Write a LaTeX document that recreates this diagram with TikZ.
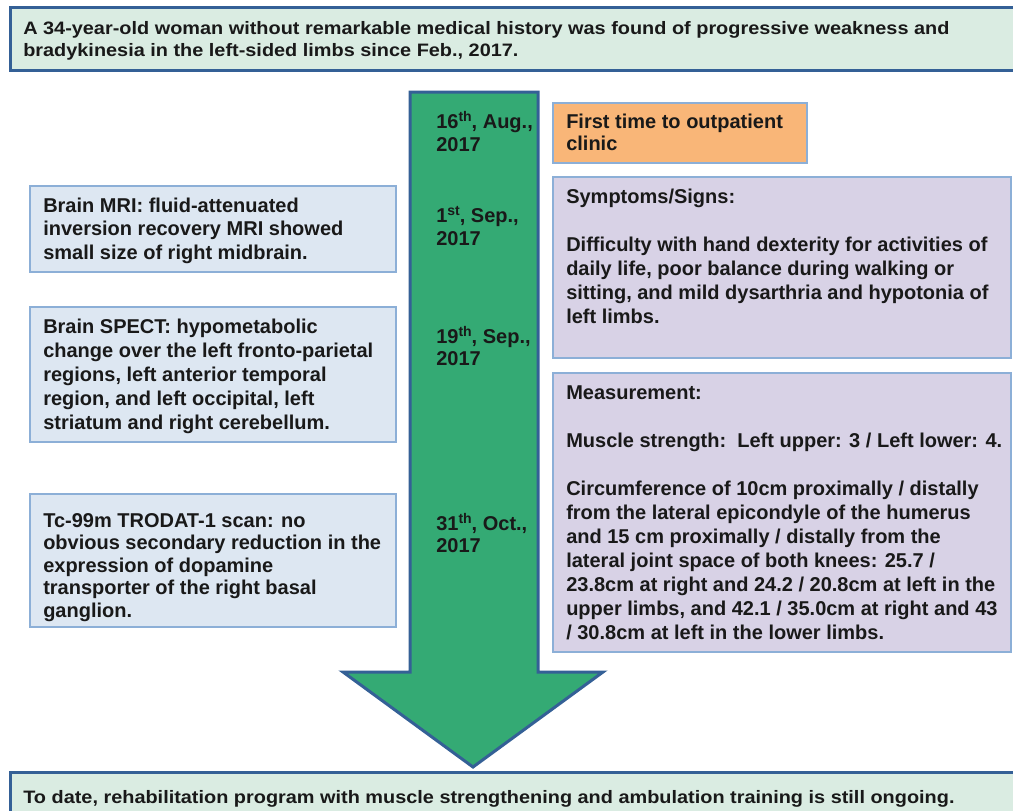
\documentclass[tikz,border=0pt]{standalone}
\usepackage{fontspec}
\setmainfont{Liberation Sans}
\newfontfamily\widefont[FakeStretch=1.105]{Liberation Sans}
\usetikzlibrary{fit}
\definecolor{ink}{RGB}{25,25,25}
\definecolor{darkedge}{RGB}{52,96,150}
\definecolor{mint}{RGB}{218,236,226}
\definecolor{arrowgreen}{RGB}{52,170,116}
\definecolor{paleblue}{RGB}{221,231,242}
\definecolor{paleedge}{RGB}{140,175,215}
\definecolor{peach}{RGB}{249,182,120}
\definecolor{lavender}{RGB}{216,210,230}
\newcommand\firststrut[1]{\rule{0pt}{#1}}
\newcommand\sups[1]{\raisebox{0.32em}{\fontsize{10.5pt}{10.5pt}\selectfont #1}}
\begin{document}
\begin{tikzpicture}[x=0.75pt,y=-0.75pt,
  framebox/.style={draw=darkedge, line width=2.25pt, fill=mint, inner sep=0pt},
  leftbox/.style={draw=paleedge, line width=1.5pt, fill=paleblue, inner sep=0pt},
  rightbox/.style={draw=paleedge, line width=1.5pt, fill=lavender, inner sep=0pt},
  peachbox/.style={draw=paleedge, line width=1.5pt, fill=peach, inner sep=0pt},
  txt/.style={anchor=north west, inner sep=0pt, align=left, text=ink,
    font=\bfseries\fontsize{15pt}{#1}\selectfont},
  txt/.default=18pt,
  widetxt/.style={anchor=north west, inner sep=0pt, align=left, text=ink,
    font=\widefont\bfseries\fontsize{13.5pt}{16.5pt}\selectfont},
  timeline/.style={draw=darkedge, line width=2.25pt, fill=arrowgreen, line join=miter}
]
\path[use as bounding box, fill=white] (0,0) rectangle (1013,810);
\clip (0,0) rectangle (1013,810);

% top and bottom frames
\node[framebox, fit={(10,7) (1030,70)}] (intro) {};
\node[widetxt] (introtext) at (23,16) {\firststrut{13.5pt}A 34-year-old woman without remarkable medical history was found of progressive weakness and\\
bradykinesia in the left-sided limbs since Feb., 2017.};

\node[framebox, fit={(10,772) (1030,830)}] (outro) {};
\node[widetxt] (outrotext) at (23,785) {\firststrut{13.5pt}To date, rehabilitation program with muscle strengthening and ambulation training is still ongoing.};

% timeline arrow
\path[timeline] (410,92) -- (538,92) -- (538,672) -- (603,672) -- (473,767) -- (343,672) -- (410,672) -- cycle;
\coordinate (arrowtip) at (473,767);

% dates
\node[txt=17.25pt] (d1) at (436,108) {\firststrut{15pt}16\sups{th}, Aug.,\\2017};
\node[txt=17.25pt] (d2) at (436,202) {\firststrut{15pt}1\sups{st}, Sep.,\\2017};
\node[txt=16.5pt] (d3) at (436,323) {\firststrut{15pt}19\sups{th}, Sep.,\\2017};
\node[txt=16.5pt] (d4) at (436,510) {\firststrut{15pt}31\sups{th}, Oct.,\\2017};

% left boxes
\node[leftbox, fit={(30,186) (396,272)}] (mri) {};
\node[txt=17.6pt] (mritext) at (43,192) {\firststrut{15pt}Brain MRI: fluid-attenuated\\
inversion recovery MRI showed\\
small size of right midbrain.};

\node[leftbox, fit={(30,307) (396,442)}] (spect) {};
\node[txt=18pt] (specttext) at (43,313) {\firststrut{15pt}Brain SPECT: hypometabolic\\
change over the left fronto-parietal\\
regions, left anterior temporal\\
region, and left occipital, left\\
striatum and right cerebellum.};

\node[leftbox, fit={(30,494) (396,627)}] (trodat) {};
\node[txt=16.9pt] (trodattext) at (43,507) {\firststrut{15pt}Tc-99m TRODAT-1 scan: no\\
obvious secondary reduction in the\\
expression of dopamine\\
transporter of the right basal\\
ganglion.};

% right boxes
\node[peachbox, fit={(553,103) (807,163)}] (clinic) {};
\node[txt=16.5pt] (clinictext) at (566,108) {\firststrut{15pt}First time to outpatient\\
clinic};

\node[rightbox, fit={(553,177) (1011,358)}] (symptoms) {};
\node[txt=18pt] (symptomstext) at (566,183) {\firststrut{15pt}Symptoms/Signs:\\[18pt]
Difficulty with hand dexterity for activities of\\
daily life, poor balance during walking or\\
sitting, and mild dysarthria and hypotonia of\\
left limbs.};

\node[rightbox, fit={(553,373) (1011,652)}] (measure) {};
\node[txt=18pt] (measuretext) at (566,379) {\firststrut{15pt}Measurement:\\[18pt]
Muscle strength:\ \ Left upper: 3 / Left lower: 4.\\[18pt]
Circumference of 10cm proximally / distally\\
from the lateral epicondyle of the humerus\\
and 15 cm proximally / distally from the\\
lateral joint space of both knees: 25.7 /\\
23.8cm at right and 24.2 / 20.8cm at left in the\\
upper limbs, and 42.1 / 35.0cm at right and 43\\
/ 30.8cm at left in the lower limbs.};
\end{tikzpicture}
\end{document}
